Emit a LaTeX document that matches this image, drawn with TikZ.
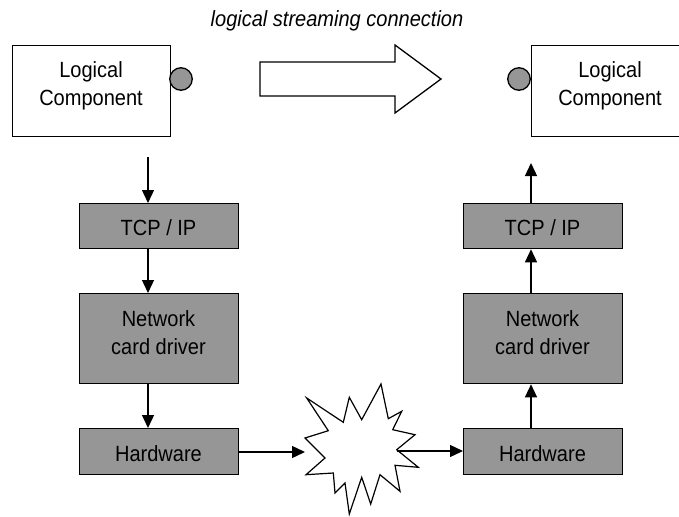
\documentclass[tikz,border=0pt]{standalone}
\usepackage{fontspec}
\setmainfont{Liberation Sans}[FakeStretch=0.91]
\usetikzlibrary{arrows.meta}
\begin{document}
\begin{tikzpicture}[x=1pt,y=-1pt,
  line width=1.3pt,
  every node/.style={font=\fontsize{22}{28}\selectfont, align=center, inner sep=0pt},
  compbox/.style={draw=black, fill=white, minimum width=158pt, minimum height=91pt, anchor=north west},
  layerbox/.style={draw=black, fill=layergray, minimum width=159pt, anchor=north west},
  port/.style={draw=black, fill=layergray, circle, minimum size=22.5pt},
  flow/.style={-{Triangle[length=13pt,width=12pt]}}
]
\definecolor{layergray}{RGB}{150,150,150}
\useasboundingbox (0,0) rectangle (679,516);
\clip (0,0) rectangle (679,516);

% caption of the logical link
\node[font=\fontsize{22}{24}\selectfont\itshape, anchor=base] (cap) at (337,27) {logical streaming connection};

% logical components and their ports
\node[compbox] (lcL) at (12,45) {};
\node (lcLt) at (91,86) {Logical\\Component};
\node[port] (pL) at (181,79) {};

\node[compbox] (lcR) at (531,45) {};
\node (lcRt) at (610,86) {Logical\\Component};
\node[port] (pR) at (519,79) {};

% block arrow for the streaming direction
\draw[fill=white] (260,62) -- (395,62) -- (395,45) -- (441,79) -- (395,113) -- (395,96) -- (260,96) -- cycle;

% left protocol stack
\node[layerbox, minimum height=45pt] (tcpL) at (79,203) {};
\node at (158.5,228) {TCP / IP};
\node[layerbox, minimum height=90pt] (ncdL) at (79,293) {};
\node at (158.5,333) {Network\\card driver};
\node[layerbox, minimum height=46pt] (hwL) at (79,428) {};
\node at (158.5,454) {Hardware};

% right protocol stack
\node[layerbox, minimum height=45pt] (tcpR) at (463,203) {};
\node at (542.5,228) {TCP / IP};
\node[layerbox, minimum height=90pt] (ncdR) at (463,293) {};
\node at (542.5,333) {Network\\card driver};
\node[layerbox, minimum height=46pt] (hwR) at (463,428) {};
\node at (542.5,454) {Hardware};

% the physical medium
\draw[fill=white, line width=1.2pt]
  (306.7,398) -- (343.3,422.3) -- (349.3,397.3) -- (361.7,419.7) -- (381,384)
  -- (388.3,418.7) -- (401.7,411.3) -- (392.7,429.7) -- (415,434.7) -- (396.7,449.7)
  -- (418.3,467.3) -- (395,465.3) -- (400,491.3) -- (380,474.7) -- (370.7,504)
  -- (361.7,477.3) -- (349.3,514) -- (345,483) -- (335,493) -- (333.3,473)
  -- (306,474.7) -- (325,458) -- (305,438) -- (328.3,430.7) -- cycle;

% free ends of the vertical connectors and the medium contacts
\coordinate (downStart) at (148,157);
\coordinate (upEnd) at (531,163);
\coordinate (mIn) at (305,452);
\coordinate (mOut) at (397,451);

% sending side
\draw[flow] (downStart) -- (downStart |- tcpL.north);
\draw[flow] (148,0 |- tcpL.south) -- (148,0 |- ncdL.north);
\draw[flow] (148,0 |- ncdL.south) -- (148,0 |- hwL.north);
\draw[flow] (hwL.east |- mIn) -- (mIn);

% receiving side
\draw[flow] (mOut) -- (hwR.west |- mOut);
\draw[flow] (531,0 |- hwR.north) -- (531,0 |- ncdR.south);
\draw[flow] (531,0 |- ncdR.north) -- (531,0 |- tcpR.south);
\draw[flow] (upEnd |- tcpR.north) -- (upEnd);
\end{tikzpicture}
\end{document}
